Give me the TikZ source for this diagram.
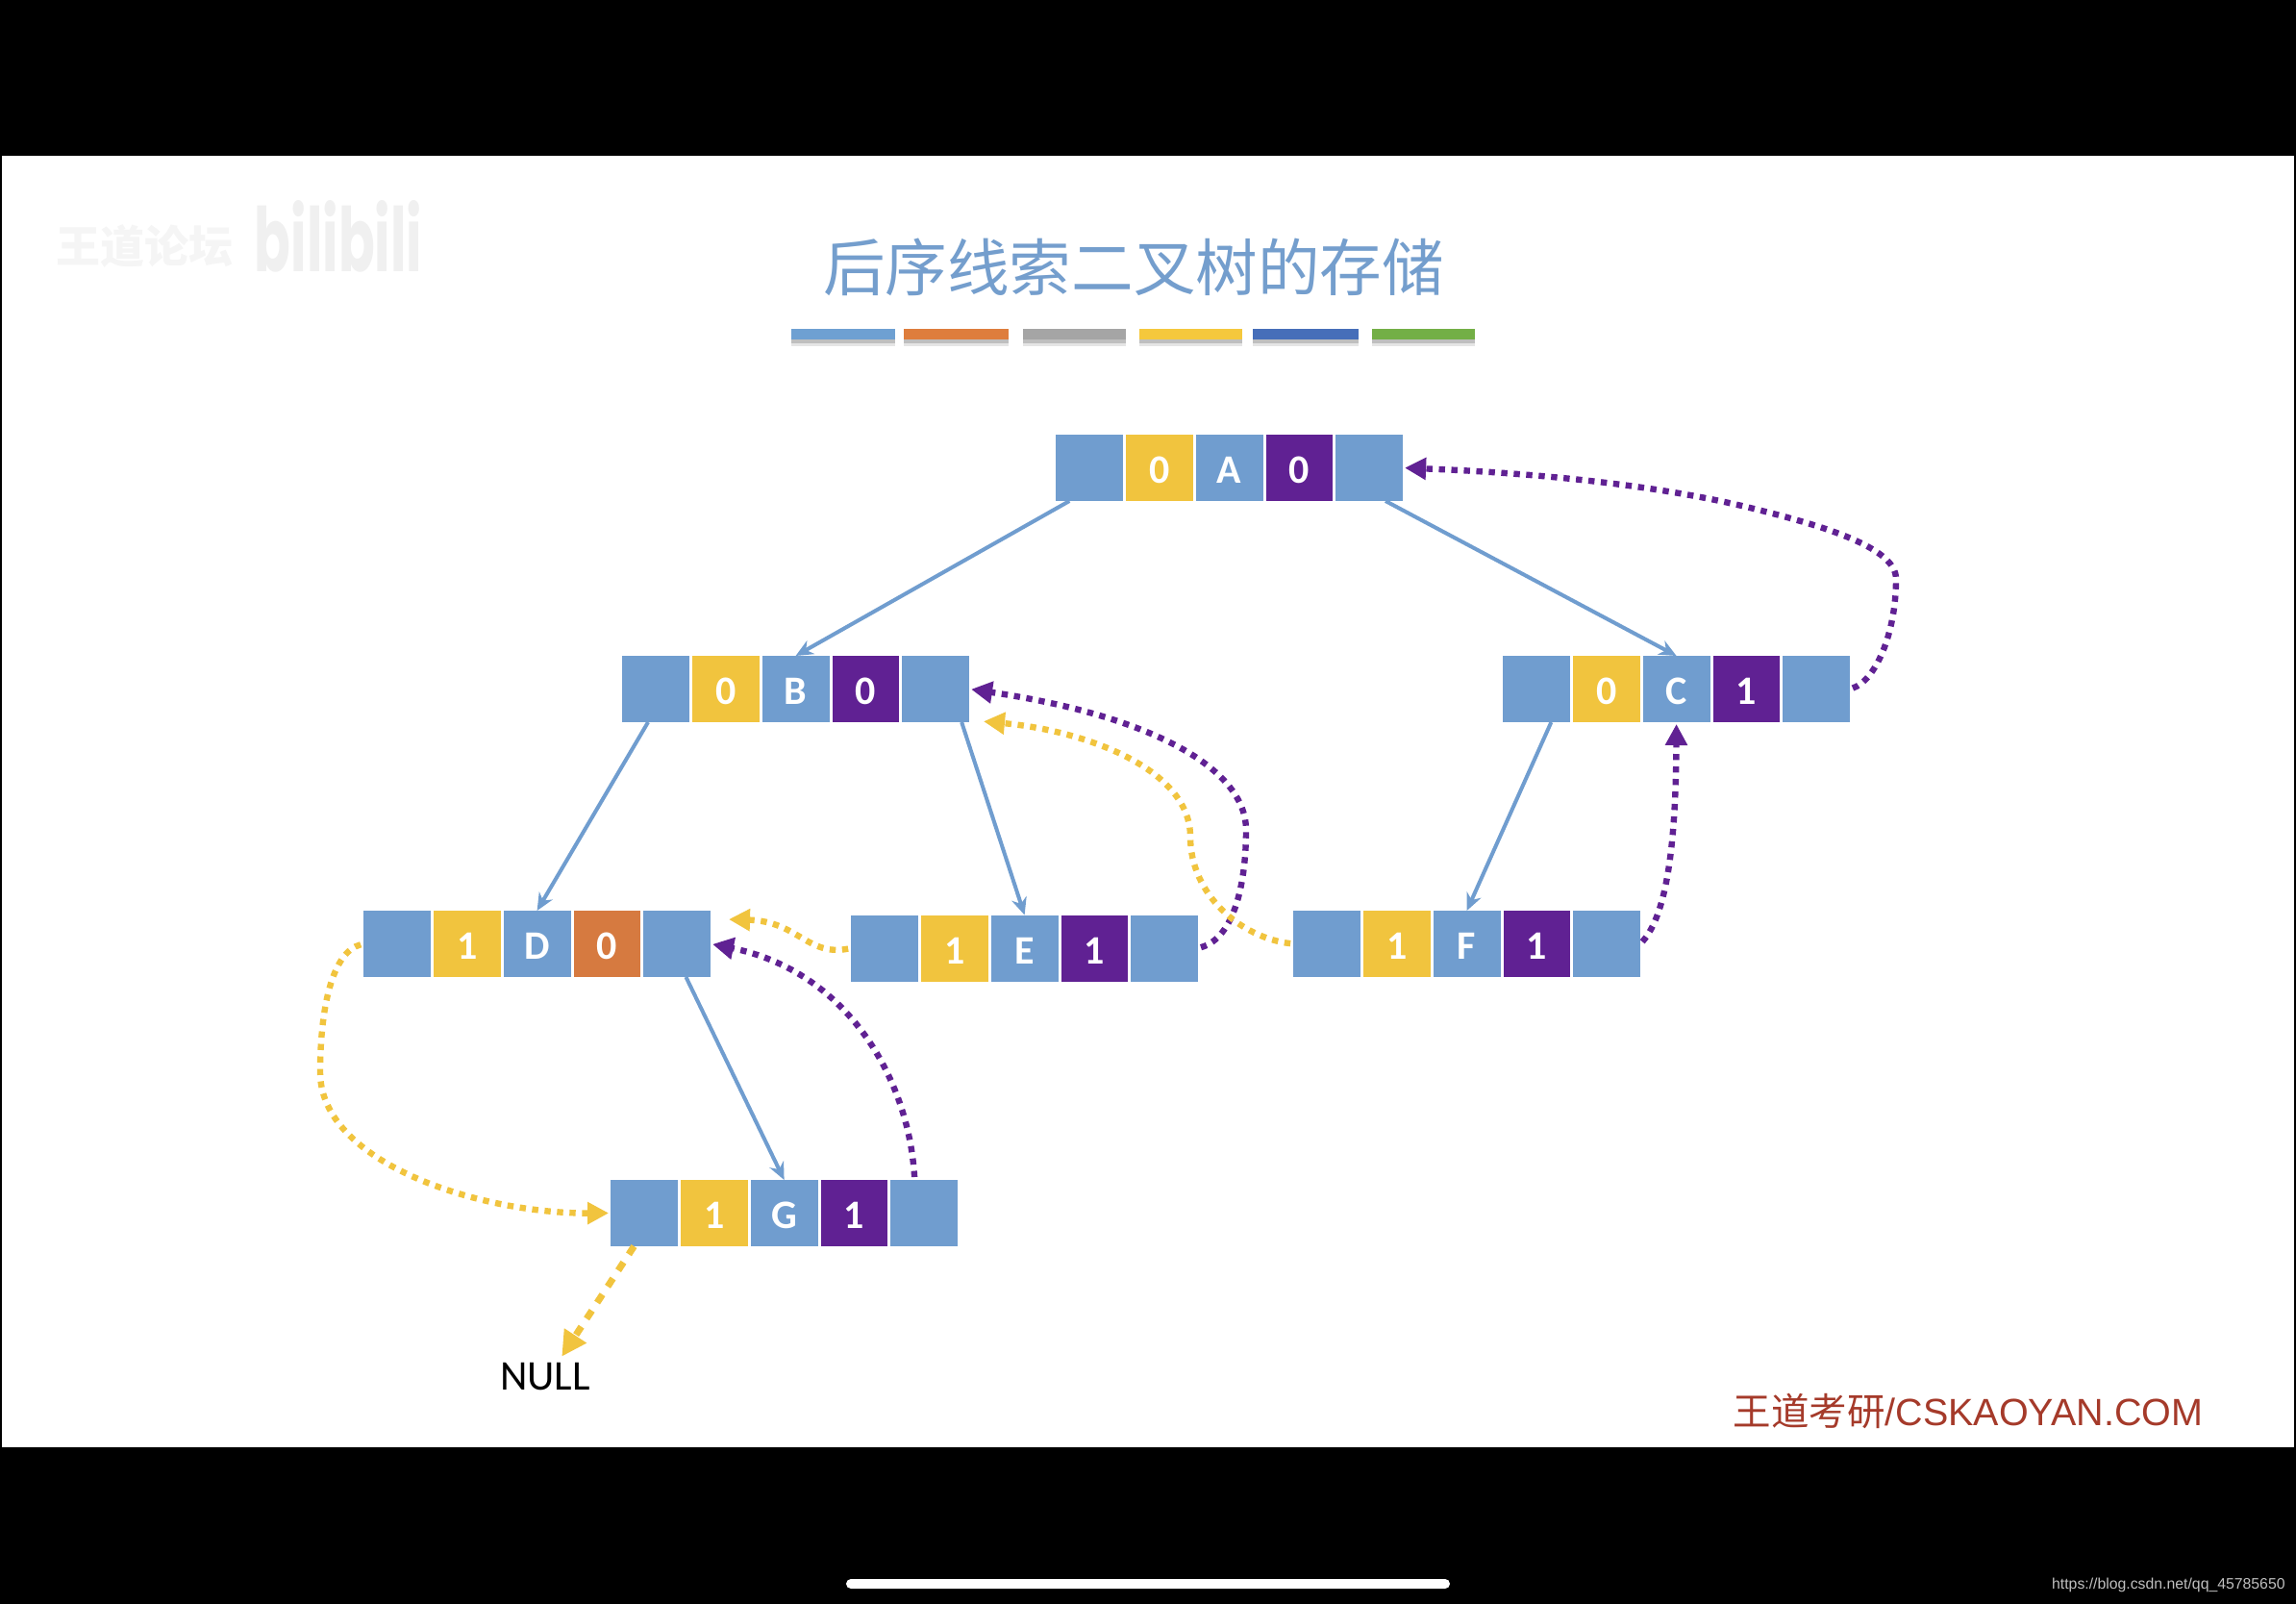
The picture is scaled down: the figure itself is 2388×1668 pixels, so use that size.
\documentclass[tikz,border=0pt]{standalone}
\usepackage{xcolor}
\usepackage{fontspec}
\setmainfont{Carlito}
\newfontfamily\cjk{Noto Sans CJK SC}
\newfontfamily\arialf{Liberation Sans}
\newfontfamily\logof{Poppins}
\usetikzlibrary{arrows.meta, positioning}
\definecolor{myblue}{RGB}{112,157,207}
\definecolor{myyellow}{RGB}{241,196,62}
\definecolor{mypurple}{RGB}{96,33,147}
\definecolor{myorange}{RGB}{214,122,64}
\definecolor{mytitle}{RGB}{116,158,205}
\definecolor{myfoot}{RGB}{165,58,42}
\definecolor{mybarblue}{RGB}{110,160,210}
\definecolor{mybarorange}{RGB}{222,125,60}
\definecolor{mybargray}{RGB}{165,165,165}
\definecolor{mybaryellow}{RGB}{245,200,60}
\definecolor{mybarnavy}{RGB}{70,110,185}
\definecolor{mybargreen}{RGB}{115,175,70}
\tikzset{
  cell/.style={rectangle, minimum width=34.9pt, minimum height=34.5pt, inner sep=0pt, outer sep=0pt, text=white, text height=16.3pt, text depth=0pt, font=\fontsize{21}{21}\selectfont\bfseries},
  ptr/.style={cell, fill=myblue},
  tag/.style={cell, fill=myyellow},
  edge/.style={draw=myblue, line width=2pt, -{Stealth[length=9pt, width=8pt]}},
  thread/.style={line width=3.2pt, dash pattern=on 3.2pt off 3.3pt, shorten <=1.5pt, shorten >=1pt},
  pthread/.style={thread, draw=mypurple, -{Triangle[length=11pt, width=11pt, fill=mypurple]}},
  ythread/.style={thread, draw=myyellow, -{Triangle[length=11pt, width=11pt, fill=myyellow]}}
}
\newcommand{\thnode}[7]{
  \node [ptr] (#1-lp) at (#2,#3) {};
  \node [tag, right=1.5pt of #1-lp] (#1-lt) {#4};
  \node [ptr, right=1.5pt of #1-lt] (#1-d) {#5};
  \node [tag, fill=#7, right=1.5pt of #1-d] (#1-rt) {#6};
  \node [ptr, right=1.5pt of #1-rt] (#1-rp) {};
}
\begin{document}
\begin{tikzpicture}[x=0.5pt, y=-0.5pt]
  \useasboundingbox (0,0) rectangle (2388,1668);
  \fill [black] (0,0) rectangle (2388,1668);
  \fill [white] (2,162) rectangle (2386,1505);
  \fill [white, rounded corners=2.5pt] (880,1642) rectangle (1508,1652);

  \node [text=black!4, font=\cjk\fontsize{23}{23}\selectfont\bfseries] (wd) at (150,256) {王道论坛};
  \node [text=black!6, inner sep=0pt] (bl) at (352,246) {\resizebox{87pt}{37pt}{\logof\bfseries bilibili}};

  \node [text=mytitle, font=\cjk\fontsize{32.3}{32.3}\selectfont] (title) at (1179,278) {后序线索二叉树的存储};

  \foreach \xa/\xb/\col in {823/931/mybarblue, 940/1049/mybarorange, 1064/1171/mybargray, 1185/1292/mybaryellow, 1303/1413/mybarnavy, 1427/1534/mybargreen} {
    \fill [black!10] (\xa,346) rectangle (\xb,360);
    \fill [black!25] (\xa,346) rectangle (\xb,357);
    \fill [\col] (\xa,342) rectangle (\xb,353);
  }

  \thnode{A}{1133}{486.5}{0}{A}{0}{mypurple}
  \thnode{B}{682}{716.5}{0}{B}{0}{mypurple}
  \thnode{C}{1598}{716.5}{0}{C}{1}{mypurple}
  \thnode{D}{413}{981.5}{1}{D}{0}{myorange}
  \thnode{E}{920}{986}{1}{E}{1}{mypurple}
  \thnode{F}{1380}{981.5}{1}{F}{1}{mypurple}
  \thnode{G}{670}{1261.5}{1}{G}{1}{mypurple}

  \node [font=\fontsize{22}{22}\selectfont] (null) at (567,1432) {NULL};
  \node [text=myfoot, font=\fontsize{19.75}{19.75}\selectfont\arialf, inner sep=0pt] (foot) at (2047,1467) {{\cjk 王道考研}/CSKAOYAN.COM};
  \node [text=black!25, font=\fontsize{7.9}{7.9}\selectfont\arialf, anchor=east, inner sep=0pt] (url) at (2377,1648) {https://blog.csdn.net/qq\_45785650};

  \coordinate (D-in) at (756,956);
  \coordinate (B-in) at (1021,750);

  \draw [edge] (A-lp.-121) -- (B-d.north);
  \draw [edge] (A-rp.-64) -- (C-d.north);
  \draw [edge] (B-lp.-103) -- (D-d.north);
  \draw [edge] (B-rp.-52) -- (E-d.north);
  \draw [edge] (C-lp.-66) -- (F-d.north);
  \draw [edge] (D-rp.-75) -- (G-d.north);

  \draw [pthread] (C-rp.east) .. controls (1950,708) and (1972,660) .. (1972,602) .. controls (1972,570) and (1900,548) .. (1828,530) .. controls (1730,505) and (1600,492) .. (A-rp.east);
  \draw [pthread] (E-rp.east) .. controls (1285,975) and (1296,915) .. (1296,863) .. controls (1296,800) and (1200,745) .. (B-rp.east);
  \draw [pthread] (F-rp.east) .. controls (1735,950) and (1743,870) .. (C-d.south);
  \draw [pthread] (G-rp.106) .. controls (945,1120) and (880,1010) .. (D-rp.east);
  \draw [ythread] (E-lp.west) .. controls (840,995) and (830,958) .. (D-in);
  \draw [ythread] (F-lp.west) .. controls (1290,975) and (1238,930) .. (1238,870) .. controls (1238,800) and (1130,760) .. (B-in);
  \draw [ythread] (D-lp.west) .. controls (345,990) and (333,1050) .. (333,1115) .. controls (333,1210) and (500,1262) .. (G-lp.west);
  \draw [draw=myyellow, line width=3.5pt, dash pattern=on 5pt off 5pt, -{Triangle[length=13pt, width=13pt, fill=myyellow]}] (G-lp.-107) -- (null.51);
\end{tikzpicture}
\end{document}
